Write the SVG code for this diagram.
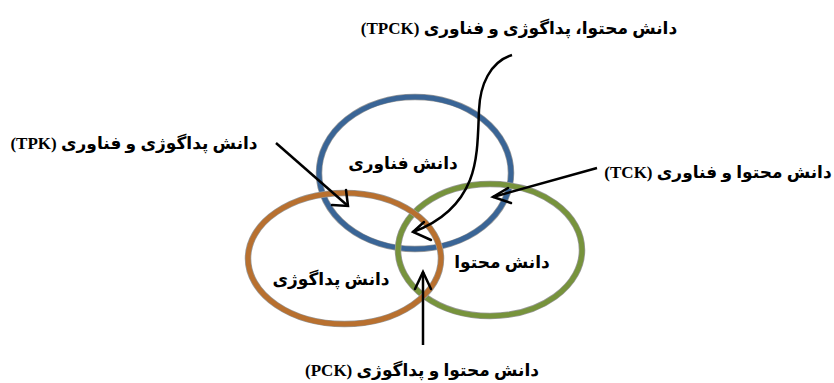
<svg xmlns="http://www.w3.org/2000/svg" width="834" height="383" viewBox="0 0 834 383">
<defs>
<style>
.lbl{font-family:"Liberation Serif","DejaVu Sans",serif;font-weight:bold;font-size:17px;fill:#000;}
.nl{font-family:"Liberation Serif","DejaVu Sans",serif;font-weight:bold;font-size:17px;fill:#000;}
.sh{fill:none;stroke:#9a9a9a;stroke-width:6.5;}
.arr{fill:none;stroke:#000;stroke-width:2.5;}
.head{fill:none;stroke:#000;stroke-width:2.5;stroke-linecap:round;stroke-linejoin:miter;}
</style>
</defs>
<rect width="834" height="383" fill="#fff"/>
<g id="tech">
<ellipse class="sh" cx="415" cy="173" rx="96" ry="76"/>
<ellipse cx="415" cy="173" rx="96" ry="76" fill="none" stroke="#3A6596" stroke-width="5"/>
<text class="nl" x="403" y="169" text-anchor="middle" direction="rtl">دانش فناوری</text>
</g>
<g id="content">
<ellipse class="sh" cx="490" cy="250" rx="92" ry="66"/>
<ellipse cx="490" cy="250" rx="92" ry="66" fill="none" stroke="#77933C" stroke-width="5"/>
<text class="nl" x="502" y="268" text-anchor="middle" direction="rtl">دانش محتوا</text>
</g>
<g id="pedagogy">
<ellipse class="sh" cx="344.500" cy="258.500" rx="96.5" ry="65.5"/>
<ellipse cx="344.500" cy="258.500" rx="96.5" ry="65.5" fill="none" stroke="#B8702F" stroke-width="5"/>
<text class="nl" x="331" y="285" text-anchor="middle" direction="rtl">دانش پداگوژی</text>
</g>
<g id="connectors">
<path class="arr" d="M276,143 L348,206"/>
<path class="head" d="M332,205 L348,206 L346,190"/>
<path class="arr" d="M597,168 L493,197"/>
<path class="head" d="M508,188 L493,197 L511,203"/>
<path class="arr" d="M423,345 L423,272"/>
<path class="head" d="M415,289 L423,272 L431,289"/>
<path class="arr" d="M512,55 C490,62 480,85 479,110 C478,135 478,160 470,180 C460,205 440,222 413,232"/>
<path class="head" d="M424,222 L413,232 L431,240"/>
</g>
<g id="labels">
<text class="lbl" x="519" y="34" text-anchor="middle" direction="rtl">دانش محتوا، پداگوژی و فناوری (TPCK)</text>
<text class="lbl" x="134" y="149" text-anchor="middle" direction="rtl">دانش پداگوژی و فناوری (TPK)</text>
<text class="lbl" x="718" y="178" text-anchor="middle" direction="rtl">دانش محتوا و فناوری (TCK)</text>
<text class="lbl" x="422" y="376" text-anchor="middle" direction="rtl">دانش محتوا و پداگوژی (PCK)</text>
</g>
</svg>
